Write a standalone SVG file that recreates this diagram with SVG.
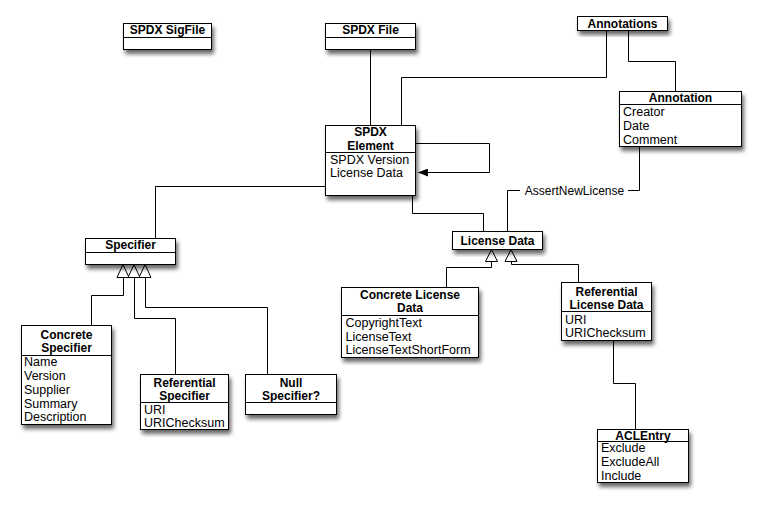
<svg xmlns="http://www.w3.org/2000/svg" width="761" height="508" viewBox="0 0 761 508">
  <defs>
    <style>
      .box { fill: #ffffff; stroke: #000000; stroke-width: 1; filter: url(#shadow); }
      .div { stroke: #000000; stroke-width: 1; fill: none; }
      .title { font-family: "Liberation Sans", Arial, sans-serif; font-size: 12px; font-weight: bold; text-anchor: middle; fill: #000; }
      .attr { font-family: "Liberation Sans", Arial, sans-serif; font-size: 12.5px; fill: #000; }
      .link { fill: none; stroke: #000000; stroke-width: 1; }
      .gen { fill: #ffffff; stroke: #000000; stroke-width: 1; }
      .label { font-family: "Liberation Sans", Arial, sans-serif; font-size: 12px; fill: #000; text-anchor: middle; }
    </style>
    <filter id="shadow" x="-20%" y="-20%" width="150%" height="160%">
      <feGaussianBlur in="SourceAlpha" stdDeviation="2"/>
      <feOffset dx="2" dy="4" result="blur"/>
      <feComponentTransfer><feFuncA type="linear" slope="0.6"/></feComponentTransfer>
      <feMerge><feMergeNode/><feMergeNode in="SourceGraphic"/></feMerge>
    </filter>
    <marker id="arrow" viewBox="0 0 10 8" refX="10" refY="4" markerWidth="10" markerHeight="8" markerUnits="userSpaceOnUse" orient="auto">
      <path d="M0,0 L10,4 L0,8 Z" fill="#000"/>
    </marker>
  </defs>
  <rect width="761" height="508" fill="#ffffff"/>

  <!-- connectors -->
  <g id="connectors">
    <path class="link" d="M370.5 49.5 V125.5"/>
    <path class="link" d="M606.5 30.5 V77.5 H401.5 V125.5"/>
    <path class="link" d="M628.5 30.5 V61.5 H675.5 V91.5"/>
    <path class="link" d="M639.5 146.5 V190.5 H628"/>
    <text class="label" x="574.5" y="195">AssertNewLicense</text>
    <path class="link" d="M520 190.5 H507.5 V231.5"/>
    <path class="link" d="M415.5 143.5 H489.5 V172.5 H418" marker-end="url(#arrow)"/>
    <path class="link" d="M412.5 195.5 V213.5 H483.5 V231.5"/>
    <path class="link" d="M325.5 186.5 H155.5 V238.5"/>
    <path class="link" d="M123.5 277.5 V295.5 H91.5 V325.5"/>
    <path class="link" d="M134.5 277.5 V318.5 H175.5 V374.5"/>
    <path class="link" d="M145.5 277.5 V307.5 H267.5 V374.5"/>
    <path class="link" d="M491.5 261.5 V267.5 H446.5 V287.5"/>
    <path class="link" d="M511.5 261.5 V264.5 H578.5 V282.5"/>
    <path class="link" d="M613.5 340.5 V383.5 H635.5 V429.5"/>
    <!-- generalization heads -->
    <polygon class="gen" points="123,264.5 117,277.5 129,277.5"/>
    <polygon class="gen" points="134,264.5 128,277.5 140,277.5"/>
    <polygon class="gen" points="145,264.5 139,277.5 151,277.5"/>
    <polygon class="gen" points="491.5,249.5 485.5,261.5 497.5,261.5"/>
    <polygon class="gen" points="511,249.5 505,261.5 517,261.5"/>
  </g>

  <g id="spdx-sigfile">
    <rect class="box" x="123.5" y="23.5" width="88" height="26"/>
    <path class="div" d="M123.5 37.5 H211.5"/>
    <text class="title" x="167.5" y="34">SPDX SigFile</text>
  </g>

  <g id="spdx-file">
    <rect class="box" x="325.5" y="23.5" width="90" height="26"/>
    <path class="div" d="M325.5 37.5 H415.5"/>
    <text class="title" x="370.5" y="34">SPDX File</text>
  </g>

  <g id="annotations">
    <rect class="box" x="577.5" y="16.5" width="90" height="14"/>
    <text class="title" x="622.5" y="28">Annotations</text>
  </g>

  <g id="annotation">
    <rect class="box" x="619.5" y="91.5" width="122" height="55"/>
    <path class="div" d="M619.5 104.5 H741.5"/>
    <text class="title" x="680.5" y="102">Annotation</text>
    <text class="attr" x="623" y="116">Creator</text>
    <text class="attr" x="623" y="130">Date</text>
    <text class="attr" x="623" y="144">Comment</text>
  </g>

  <g id="spdx-element">
    <rect class="box" x="325.5" y="125.5" width="90" height="70"/>
    <path class="div" d="M325.5 152.5 H415.5"/>
    <text class="title" x="370.5" y="136">SPDX</text>
    <text class="title" x="370.5" y="149.5">Element</text>
    <text class="attr" x="330" y="163.5">SPDX Version</text>
    <text class="attr" x="330" y="177">License Data</text>
  </g>

  <g id="specifier">
    <rect class="box" x="85.5" y="238.5" width="90" height="26"/>
    <path class="div" d="M85.5 252.5 H175.5"/>
    <text class="title" x="130.5" y="249">Specifier</text>
  </g>

  <g id="license-data">
    <rect class="box" x="452.5" y="231.5" width="90" height="18"/>
    <text class="title" x="497.5" y="245">License Data</text>
  </g>

  <g id="concrete-specifier">
    <rect class="box" x="21.5" y="325.5" width="90" height="99"/>
    <path class="div" d="M21.5 355.5 H111.5"/>
    <text class="title" x="66.5" y="338.5">Concrete</text>
    <text class="title" x="66.5" y="351.5">Specifier</text>
    <text class="attr" x="24" y="365.5">Name</text>
    <text class="attr" x="24" y="379.5">Version</text>
    <text class="attr" x="24" y="393.5">Supplier</text>
    <text class="attr" x="24" y="407.5">Summary</text>
    <text class="attr" x="24" y="421">Description</text>
  </g>

  <g id="referential-specifier">
    <rect class="box" x="140.5" y="374.5" width="88" height="55"/>
    <path class="div" d="M140.5 402.5 H228.5"/>
    <text class="title" x="184.5" y="386.5">Referential</text>
    <text class="title" x="184.5" y="399.5">Specifier</text>
    <text class="attr" x="144" y="414">URI</text>
    <text class="attr" x="144" y="427">URIChecksum</text>
  </g>

  <g id="null-specifier">
    <rect class="box" x="245.5" y="374.5" width="91" height="40"/>
    <path class="div" d="M245.5 402.5 H336.5"/>
    <text class="title" x="291" y="386.5">Null</text>
    <text class="title" x="291" y="399.5">Specifier?</text>
  </g>

  <g id="concrete-license-data">
    <rect class="box" x="341.5" y="287.5" width="137" height="70"/>
    <path class="div" d="M341.5 315.5 H478.5"/>
    <text class="title" x="410" y="298.5">Concrete License</text>
    <text class="title" x="410" y="311.5">Data</text>
    <text class="attr" x="345.5" y="326.5">CopyrightText</text>
    <text class="attr" x="345.5" y="340.5">LicenseText</text>
    <text class="attr" x="345.5" y="354">LicenseTextShortForm</text>
  </g>

  <g id="referential-license-data">
    <rect class="box" x="561.5" y="282.5" width="90" height="58"/>
    <path class="div" d="M561.5 311.5 H651.5"/>
    <text class="title" x="606.5" y="295.5">Referential</text>
    <text class="title" x="606.5" y="308.5">License Data</text>
    <text class="attr" x="565" y="323.5">URI</text>
    <text class="attr" x="565" y="337">URIChecksum</text>
  </g>

  <g id="acl-entry">
    <rect class="box" x="597.5" y="429.5" width="91" height="53"/>
    <path class="div" d="M597.5 441.5 H688.5"/>
    <text class="title" x="643" y="439.5">ACLEntry</text>
    <text class="attr" x="601" y="452">Exclude</text>
    <text class="attr" x="601" y="466">ExcludeAll</text>
    <text class="attr" x="601" y="480">Include</text>
  </g>
</svg>
